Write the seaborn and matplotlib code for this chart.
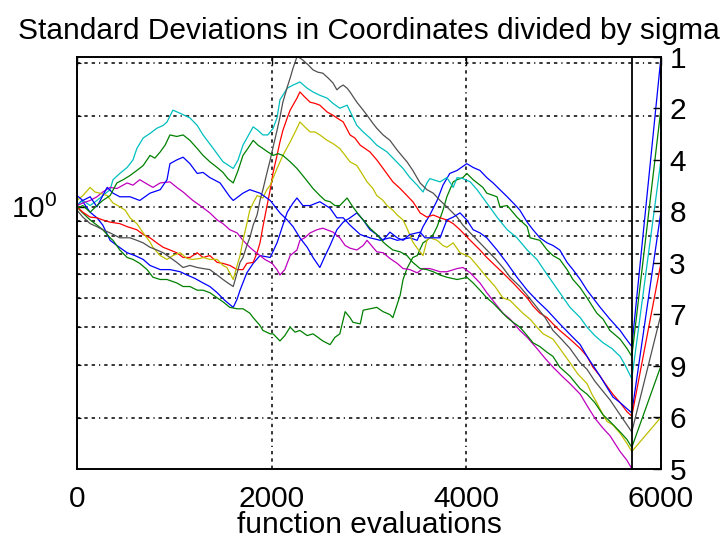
import numpy as np
import pandas as pd
import matplotlib
matplotlib.use("Agg")
import matplotlib.pyplot as plt
from matplotlib.ticker import FixedLocator, FixedFormatter, NullLocator, NullFormatter, LogLocator
import seaborn as sns

# (function evaluations, standard deviation / sigma) for each coordinate
coord_1 = [(0, 1.01), (50, 1.05), (135, 0.96), (205, 0.92), (265, 0.87), (340, 0.775), (410, 0.745),
           (515, 0.705), (595, 0.69), (680, 0.67), (750, 0.64), (855, 0.62), (955, 0.62), (1060, 0.61),
           (1130, 0.595), (1210, 0.58), (1295, 0.56), (1365, 0.545), (1440, 0.52), (1520, 0.49),
           (1605, 0.465), (1645, 0.495), (1675, 0.53), (1745, 0.605), (1810, 0.65), (1880, 0.69),
           (1985, 0.68), (2055, 0.76), (2115, 0.87), (2160, 0.96), (2220, 1.03), (2260, 1.07),
           (2320, 1.01), (2395, 1.01), (2495, 1.04), (2600, 0.99), (2670, 0.92), (2735, 0.92),
           (2805, 0.87), (2910, 0.81), (3010, 0.79), (3115, 0.775), (3215, 0.79), (3290, 0.775),
           (3420, 0.79), (3495, 0.775), (3555, 0.86), (3625, 0.94), (3700, 1.05), (3760, 1.18),
           (3830, 1.29), (3905, 1.32), (4005, 1.39), (4070, 1.35), (4140, 1.32), (4210, 1.25),
           (4275, 1.20), (4345, 1.14), (4420, 1.08), (4520, 1.00), (4550, 0.975), (4625, 0.89),
           (4685, 0.84), (4755, 0.79), (4830, 0.76), (4890, 0.745), (4960, 0.72), (5035, 0.655),
           (5095, 0.62), (5170, 0.575), (5240, 0.53), (5300, 0.50), (5375, 0.465), (5475, 0.425),
           (5580, 0.39), (5630, 0.37), (5700, 0.345)]

coord_2 = [(0, 1.00), (30, 0.975), (135, 0.905), (205, 0.87), (265, 0.84), (340, 0.79), (370, 0.775),
           (440, 0.72), (515, 0.68), (575, 0.67), (645, 0.65), (720, 0.62), (780, 0.585), (855, 0.575),
           (925, 0.575), (1025, 0.56), (1090, 0.545), (1160, 0.545), (1235, 0.53), (1295, 0.53),
           (1365, 0.52), (1440, 0.50), (1500, 0.485), (1570, 0.465), (1645, 0.46), (1705, 0.46),
           (1775, 0.445), (1810, 0.43), (1880, 0.405), (1910, 0.39), (1985, 0.38), (2015, 0.38),
           (2085, 0.36), (2135, 0.375), (2190, 0.40), (2240, 0.385), (2290, 0.39), (2365, 0.375),
           (2425, 0.38), (2475, 0.37), (2525, 0.36), (2600, 0.35), (2650, 0.37), (2700, 0.38),
           (2755, 0.45), (2805, 0.43), (2835, 0.415), (2910, 0.41), (2940, 0.455), (3010, 0.46),
           (3080, 0.465), (3145, 0.45), (3215, 0.44), (3245, 0.43), (3320, 0.51), (3350, 0.575),
           (3390, 0.625), (3450, 0.68), (3495, 0.69), (3555, 0.76), (3595, 0.775), (3660, 0.81),
           (3700, 0.86), (3760, 0.975), (3800, 1.08), (3865, 1.21), (3905, 1.23), (3965, 1.25),
           (4005, 1.29), (4070, 1.23), (4170, 1.16), (4210, 1.11), (4315, 1.08), (4345, 1.00),
           (4420, 1.01), (4520, 0.925), (4550, 0.905), (4625, 0.86), (4655, 0.79), (4755, 0.775),
           (4830, 0.72), (4890, 0.69), (4960, 0.67), (5035, 0.62), (5095, 0.575), (5170, 0.54),
           (5240, 0.50), (5340, 0.445), (5405, 0.425), (5475, 0.39), (5580, 0.365), (5650, 0.34),
           (5700, 0.32)]

coord_3 = [(0, 1.00), (60, 0.96), (135, 0.925), (205, 0.92), (265, 0.905), (340, 0.89), (440, 0.88),
           (515, 0.86), (615, 0.84), (680, 0.81), (750, 0.79), (820, 0.76), (885, 0.735), (955, 0.72),
           (1025, 0.705), (1090, 0.68), (1160, 0.68), (1235, 0.705), (1295, 0.68), (1365, 0.69),
           (1440, 0.655), (1500, 0.65), (1570, 0.64), (1645, 0.62), (1705, 0.62), (1745, 0.65),
           (1810, 0.655), (1850, 0.705), (1880, 0.76), (1910, 0.86), (1950, 1.00), (1985, 1.14),
           (2015, 1.30), (2055, 1.48), (2085, 1.64), (2115, 1.79), (2160, 1.97), (2190, 2.09),
           (2260, 2.29), (2290, 2.40), (2340, 2.31), (2395, 2.22), (2445, 2.20), (2495, 2.17),
           (2570, 2.06), (2630, 2.01), (2670, 1.97), (2735, 1.91), (2805, 1.73), (2855, 1.69),
           (2910, 1.60), (3010, 1.52), (3080, 1.43), (3145, 1.34), (3245, 1.21), (3320, 1.15),
           (3390, 1.09), (3450, 1.04), (3495, 0.99), (3525, 0.955), (3595, 0.925), (3660, 0.94),
           (3730, 0.92), (3800, 0.905), (3865, 0.88), (3935, 0.84), (4040, 0.775), (4140, 0.72),
           (4210, 0.68), (4295, 0.64), (4375, 0.605), (4480, 0.56), (4550, 0.53), (4625, 0.50),
           (4685, 0.47), (4755, 0.445), (4830, 0.43), (4890, 0.41), (4960, 0.39), (5065, 0.365),
           (5170, 0.34), (5240, 0.32), (5300, 0.295), (5375, 0.275), (5445, 0.255), (5505, 0.24),
           (5580, 0.225), (5650, 0.21), (5700, 0.203)]

coord_4 = [(0, 1.01), (60, 1.05), (135, 1.01), (205, 1.05), (265, 1.09), (340, 1.14), (370, 1.23),
           (440, 1.29), (515, 1.35), (575, 1.43), (615, 1.56), (680, 1.69), (750, 1.75), (820, 1.82),
           (885, 1.86), (925, 1.91), (985, 2.09), (1060, 2.04), (1160, 1.97), (1235, 1.86),
           (1295, 1.73), (1400, 1.56), (1500, 1.41), (1605, 1.34), (1655, 1.43), (1705, 1.60),
           (1810, 1.84), (1860, 1.79), (1910, 1.73), (1960, 1.73), (2015, 1.82), (2055, 1.97),
           (2085, 2.26), (2160, 2.47), (2220, 2.53), (2290, 2.59), (2365, 2.47), (2425, 2.40),
           (2495, 2.34), (2570, 2.29), (2630, 2.20), (2700, 2.12), (2775, 2.17), (2825, 2.01),
           (2875, 1.86), (2940, 1.77), (3010, 1.69), (3080, 1.60), (3185, 1.52), (3265, 1.43),
           (3350, 1.34), (3420, 1.25), (3495, 1.18), (3555, 1.12), (3595, 1.20), (3625, 1.24),
           (3730, 1.21), (3800, 1.25), (3865, 1.16), (3905, 1.25), (3965, 1.24), (4040, 1.21),
           (4110, 1.14), (4210, 1.03), (4315, 0.925), (4420, 0.84), (4520, 0.79), (4625, 0.72),
           (4725, 0.67), (4810, 0.61), (4890, 0.56), (4960, 0.52), (5065, 0.465), (5170, 0.43),
           (5240, 0.40), (5320, 0.375), (5405, 0.355), (5495, 0.34), (5580, 0.32), (5630, 0.30),
           (5700, 0.27)]

coord_5 = [(0, 1.01), (60, 1.03), (135, 1.05), (205, 1.08), (265, 1.12), (340, 1.16), (410, 1.15),
           (515, 1.20), (575, 1.18), (645, 1.23), (720, 1.19), (780, 1.16), (855, 1.20), (955, 1.21),
           (1025, 1.16), (1090, 1.12), (1190, 1.05), (1265, 1.01), (1365, 0.955), (1440, 0.905),
           (1500, 0.88), (1570, 0.84), (1645, 0.82), (1705, 0.775), (1775, 0.735), (1830, 0.71),
           (1880, 0.69), (1930, 0.67), (2005, 0.65), (2055, 0.62), (2085, 0.595), (2135, 0.62),
           (2190, 0.69), (2260, 0.72), (2290, 0.775), (2340, 0.79), (2395, 0.82), (2465, 0.84),
           (2525, 0.85), (2630, 0.825), (2700, 0.79), (2755, 0.745), (2805, 0.73), (2875, 0.72),
           (2940, 0.745), (2980, 0.775), (3040, 0.735), (3080, 0.71), (3145, 0.705), (3215, 0.675),
           (3290, 0.65), (3350, 0.625), (3420, 0.62), (3495, 0.605), (3555, 0.625), (3625, 0.625),
           (3730, 0.61), (3800, 0.61), (3905, 0.625), (3965, 0.63), (4040, 0.605), (4140, 0.56),
           (4210, 0.52), (4295, 0.48), (4375, 0.445), (4450, 0.425), (4550, 0.39), (4625, 0.37),
           (4725, 0.34), (4810, 0.315), (4890, 0.295), (4985, 0.275), (5065, 0.26), (5170, 0.24),
           (5240, 0.22), (5320, 0.20), (5405, 0.185), (5475, 0.175), (5580, 0.155), (5650, 0.145),
           (5700, 0.136)]

coord_6 = [(0, 1.05), (60, 1.09), (135, 1.16), (185, 1.12), (235, 1.11), (310, 1.09), (370, 1.03),
           (440, 1.00), (495, 0.975), (545, 0.92), (615, 0.88), (680, 0.82), (750, 0.765), (780, 0.735),
           (855, 0.69), (925, 0.67), (985, 0.69), (1060, 0.705), (1130, 0.675), (1190, 0.67),
           (1265, 0.675), (1295, 0.68), (1365, 0.67), (1440, 0.67), (1500, 0.64), (1540, 0.63),
           (1605, 0.575), (1645, 0.64), (1675, 0.69), (1705, 0.775), (1745, 0.88), (1775, 0.975),
           (1810, 1.03), (1850, 1.09), (1880, 1.08), (1910, 1.07), (1950, 1.14), (1985, 1.18),
           (2055, 1.34), (2115, 1.48), (2190, 1.64), (2260, 1.82), (2290, 1.91), (2340, 1.84),
           (2395, 1.77), (2445, 1.77), (2495, 1.73), (2570, 1.66), (2630, 1.62), (2700, 1.56),
           (2755, 1.48), (2805, 1.41), (2875, 1.37), (2940, 1.27), (2980, 1.21), (3040, 1.15),
           (3080, 1.09), (3145, 1.05), (3185, 1.01), (3245, 0.975), (3290, 0.94), (3350, 0.905),
           (3390, 0.85), (3450, 0.765), (3495, 0.73), (3525, 0.71), (3555, 0.69), (3595, 0.775),
           (3625, 0.79), (3700, 0.775), (3760, 0.745), (3800, 0.735), (3865, 0.76), (3935, 0.705),
           (4005, 0.69), (4040, 0.68), (4110, 0.64), (4210, 0.585), (4295, 0.545), (4375, 0.50),
           (4450, 0.49), (4520, 0.465), (4580, 0.445), (4655, 0.425), (4725, 0.40), (4790, 0.38),
           (4890, 0.365), (4960, 0.34), (5065, 0.305), (5145, 0.28), (5240, 0.26), (5290, 0.24),
           (5340, 0.225), (5405, 0.205), (5445, 0.195), (5505, 0.19), (5580, 0.178), (5650, 0.165),
           (5700, 0.155)]

coord_7 = [(0, 0.975), (60, 0.925), (135, 0.88), (205, 0.86), (265, 0.84), (340, 0.82), (440, 0.79),
           (545, 0.79), (615, 0.775), (680, 0.76), (750, 0.735), (820, 0.72), (885, 0.705), (955, 0.68),
           (1025, 0.655), (1090, 0.63), (1160, 0.64), (1235, 0.63), (1295, 0.625), (1365, 0.62),
           (1440, 0.595), (1500, 0.575), (1550, 0.56), (1605, 0.545), (1645, 0.605), (1675, 0.655),
           (1705, 0.68), (1745, 0.745), (1775, 0.79), (1810, 0.87), (1850, 0.94), (1880, 1.05),
           (1910, 1.14), (1950, 1.29), (1985, 1.43), (2015, 1.58), (2055, 1.79), (2085, 1.98),
           (2115, 2.22), (2160, 2.49), (2190, 2.67), (2220, 2.88), (2260, 3.14), (2290, 3.11),
           (2320, 3.06), (2375, 2.95), (2425, 2.84), (2475, 2.79), (2525, 2.77), (2580, 2.67),
           (2630, 2.57), (2670, 2.44), (2700, 2.49), (2735, 2.53), (2775, 2.47), (2805, 2.40),
           (2875, 2.22), (2940, 2.09), (2980, 2.01), (3040, 1.89), (3080, 1.82), (3145, 1.73),
           (3215, 1.66), (3290, 1.54), (3350, 1.46), (3390, 1.41), (3450, 1.32), (3525, 1.20),
           (3595, 1.14), (3660, 1.11), (3730, 1.05), (3800, 1.00), (3905, 0.925), (3965, 0.87),
           (4040, 0.82), (4140, 0.76), (4210, 0.72), (4295, 0.675), (4375, 0.63), (4450, 0.585),
           (4550, 0.545), (4625, 0.51), (4725, 0.465), (4810, 0.43), (4890, 0.39), (4960, 0.37),
           (5065, 0.34), (5170, 0.305), (5240, 0.29), (5320, 0.265), (5405, 0.245), (5475, 0.23),
           (5580, 0.205), (5650, 0.19), (5700, 0.18)]

coord_8 = [(0, 1.09), (60, 1.05), (135, 1.08), (205, 1.00), (265, 1.09), (310, 1.16), (370, 1.11),
           (440, 1.08), (545, 1.08), (645, 1.05), (750, 1.11), (855, 1.14), (925, 1.23), (955, 1.39),
           (1025, 1.43), (1090, 1.46), (1160, 1.39), (1235, 1.29), (1295, 1.30), (1365, 1.25),
           (1470, 1.20), (1570, 1.08), (1605, 1.05), (1705, 1.11), (1775, 1.14), (1880, 1.11),
           (1985, 1.05), (2085, 0.955), (2160, 0.905), (2220, 0.86), (2290, 0.79), (2365, 0.735),
           (2425, 0.68), (2495, 0.63), (2550, 0.69), (2600, 0.745), (2670, 0.84), (2735, 0.89),
           (2805, 0.92), (2875, 0.955), (2940, 0.905), (3010, 0.84), (3080, 0.81), (3145, 0.775),
           (3215, 0.825), (3290, 0.79), (3350, 0.775), (3420, 0.81), (3525, 0.825), (3575, 0.79),
           (3625, 0.79), (3730, 0.79), (3800, 0.905), (3865, 0.925), (3935, 0.955), (4005, 0.905),
           (4070, 0.84), (4140, 0.82), (4210, 0.79), (4315, 0.72), (4420, 0.65), (4520, 0.585),
           (4625, 0.53), (4725, 0.49), (4830, 0.455), (4960, 0.41), (5095, 0.37), (5170, 0.35),
           (5240, 0.32), (5375, 0.275), (5505, 0.235), (5580, 0.225), (5700, 0.208)]

coord_9 = [(0, 0.99), (60, 1.01), (135, 0.96), (205, 1.01), (265, 1.05), (340, 1.09), (410, 1.20),
           (475, 1.23), (545, 1.27), (615, 1.32), (680, 1.37), (750, 1.48), (800, 1.45), (855, 1.52),
           (905, 1.60), (955, 1.73), (1025, 1.71), (1090, 1.73), (1160, 1.66), (1235, 1.56),
           (1295, 1.48), (1365, 1.41), (1440, 1.35), (1500, 1.30), (1550, 1.24), (1605, 1.20),
           (1655, 1.32), (1705, 1.48), (1755, 1.56), (1810, 1.66), (1860, 1.60), (1910, 1.56),
           (1960, 1.52), (2015, 1.48), (2065, 1.50), (2115, 1.48), (2190, 1.41), (2260, 1.34),
           (2345, 1.24), (2425, 1.15), (2495, 1.09), (2550, 1.05), (2600, 1.04), (2650, 1.01),
           (2700, 1.01), (2775, 1.07), (2825, 1.01), (2875, 0.96), (2940, 0.905), (3010, 0.85),
           (3080, 0.81), (3145, 0.765), (3185, 0.745), (3245, 0.72), (3320, 0.71), (3390, 0.69),
           (3450, 0.655), (3525, 0.625), (3595, 0.62), (3660, 0.61), (3730, 0.595), (3800, 0.585),
           (3905, 0.575), (3965, 0.58), (4005, 0.585), (4070, 0.56), (4140, 0.53), (4210, 0.50),
           (4275, 0.48), (4345, 0.455), (4420, 0.43), (4480, 0.415), (4550, 0.40), (4625, 0.375),
           (4685, 0.355), (4755, 0.345), (4830, 0.33), (4890, 0.32), (4960, 0.295), (5065, 0.275),
           (5170, 0.25), (5240, 0.24), (5320, 0.225), (5405, 0.205), (5475, 0.195), (5580, 0.18),
           (5650, 0.17), (5700, 0.16)]

coordinates = {1: coord_1, 2: coord_2, 3: coord_3, 4: coord_4, 5: coord_5,
               6: coord_6, 7: coord_7, 8: coord_8, 9: coord_9}
line_colors = {1: "#0000ff", 2: "#008000", 3: "#ff0000", 4: "#00bfbf", 5: "#bf00bf",
               6: "#bfbf00", 7: "#505050", 8: "#0000ff", 9: "#008000"}
x_ticks = [0, 2000, 4000, 6000]
x_max = 6000
title_text = "Standard Deviations in Coordinates divided by sigma"
x_label_text = "function evaluations"

# long-form table for seaborn
rows = []
for c, pts in coordinates.items():
    for ev, sd in pts:
        rows.append({"coord": c, "evals": ev, "sd": sd})
df = pd.DataFrame(rows)

sns.set_style("white")
FONT = ["Liberation Sans", "DejaVu Sans"]
plt.rcParams["font.family"] = FONT
plt.rcParams["mathtext.fontset"] = "custom"
plt.rcParams["mathtext.rm"] = FONT[0]
plt.rcParams["mathtext.it"] = FONT[0]
for key in ("text.color", "axes.labelcolor", "xtick.color", "ytick.color"):
    plt.rcParams[key] = "black"
FS = 21.5

fig = plt.figure(figsize=(7.28, 5.41), dpi=100)
ax = fig.add_axes([77 / 728, 1 - 468.7 / 541, (661 - 77) / 728, (468.7 - 56.7) / 541])

sns.lineplot(data=df, x="evals", y="sd", hue="coord", palette=line_colors,
             estimator=None, sort=False, legend=False, linewidth=0.9, ax=ax)
ax.set_yscale("log")

ymin, ymax = df["sd"].min(), df["sd"].max()
ax.set_ylim(ymin, ymax)
ax.set_xlim(0, x_max)

# connect each final value to its evenly spaced label on the right
last_eval = max(p[-1][0] for p in coordinates.values())
final = {c: pts[-1][1] for c, pts in coordinates.items()}
order = sorted(final, key=lambda c: -final[c])
label_y = np.logspace(np.log10(ymax), np.log10(ymin), len(order))
for rank, c in enumerate(order):
    ax.plot([last_eval, x_max], [final[c], label_y[rank]], color=line_colors[c], lw=0.9)
ax.axvline(last_eval, color="black", lw=1.3)

# grid
dash = (0, (2.2, 2.6, 2.2, 2.6, 2.2, 2.6, 0.8, 2.6))
ax.yaxis.set_major_locator(LogLocator(base=10))
ax.yaxis.set_minor_locator(LogLocator(base=10, subs=np.arange(2, 10)))
ax.yaxis.set_minor_formatter(NullFormatter())
ax.grid(True, which="both", axis="y", color="black", linestyle=dash, linewidth=1.1)
ax.set_xticks(x_ticks)
ax.grid(True, which="major", axis="x", color="black", linestyle=dash, linewidth=1.1)

ax.tick_params(axis="x", which="both", direction="in", top=True, length=6, width=1,
               labelsize=FS, pad=11.5)
ax.tick_params(axis="y", which="major", direction="in", length=6, width=1, labelsize=FS, pad=14)
ax.tick_params(axis="y", which="minor", direction="in", length=3, width=0.8)
for s in ax.spines.values():
    s.set_color("black")
    s.set_linewidth(1.4)

# right axis with coordinate indices
ax2 = ax.twinx()
ax2.set_yscale("log")
ax2.set_ylim(ax.get_ylim())
ax2.yaxis.set_major_locator(FixedLocator(label_y))
ax2.yaxis.set_major_formatter(FixedFormatter([str(c) for c in order]))
ax2.yaxis.set_minor_locator(NullLocator())
ax2.tick_params(axis="y", direction="in", length=6, width=1, labelsize=FS, pad=6)
for s in ax2.spines.values():
    s.set_visible(False)

ax.set_title(title_text, fontsize=FS, pad=13)
ax.set_xlabel(x_label_text, fontsize=FS, labelpad=-1.5)
ax.set_ylabel("")

fig.savefig("out.png", dpi=100)
